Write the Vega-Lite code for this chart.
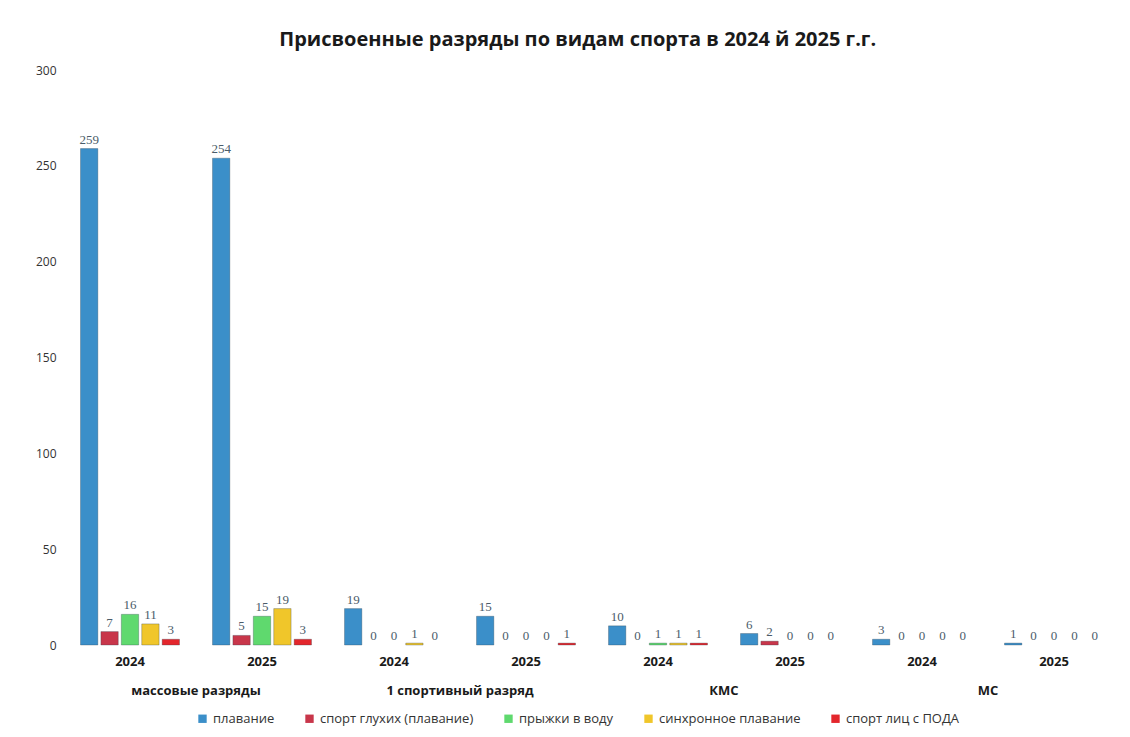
{
  "$schema": "https://vega.github.io/schema/vega-lite/v6.json",
  "background": "white",
  "padding": {"left": 35, "top": 30, "right": 5, "bottom": 5},
  "title": {"text": "Присвоенные разряды по видам спорта в 2024 й 2025 г.г.", "font": "Open Sans", "fontSize": 20, "fontWeight": "bold", "color": "#1a1a1a", "anchor": "middle", "offset": 14, "dx": 0},
  "data": {"values": [
    {"cat": "массовые разряды", "year": "2024", "s": "плавание", "v": 259},
    {"cat": "массовые разряды", "year": "2024", "s": "спорт глухих (плавание)", "v": 7},
    {"cat": "массовые разряды", "year": "2024", "s": "прыжки в воду", "v": 16},
    {"cat": "массовые разряды", "year": "2024", "s": "синхронное плавание", "v": 11},
    {"cat": "массовые разряды", "year": "2024", "s": "спорт лиц с ПОДА", "v": 3},
    {"cat": "массовые разряды", "year": "2025", "s": "плавание", "v": 254},
    {"cat": "массовые разряды", "year": "2025", "s": "спорт глухих (плавание)", "v": 5},
    {"cat": "массовые разряды", "year": "2025", "s": "прыжки в воду", "v": 15},
    {"cat": "массовые разряды", "year": "2025", "s": "синхронное плавание", "v": 19},
    {"cat": "массовые разряды", "year": "2025", "s": "спорт лиц с ПОДА", "v": 3},
    {"cat": "1 спортивный разряд", "year": "2024", "s": "плавание", "v": 19},
    {"cat": "1 спортивный разряд", "year": "2024", "s": "спорт глухих (плавание)", "v": 0},
    {"cat": "1 спортивный разряд", "year": "2024", "s": "прыжки в воду", "v": 0},
    {"cat": "1 спортивный разряд", "year": "2024", "s": "синхронное плавание", "v": 1},
    {"cat": "1 спортивный разряд", "year": "2024", "s": "спорт лиц с ПОДА", "v": 0},
    {"cat": "1 спортивный разряд", "year": "2025", "s": "плавание", "v": 15},
    {"cat": "1 спортивный разряд", "year": "2025", "s": "спорт глухих (плавание)", "v": 0},
    {"cat": "1 спортивный разряд", "year": "2025", "s": "прыжки в воду", "v": 0},
    {"cat": "1 спортивный разряд", "year": "2025", "s": "синхронное плавание", "v": 0},
    {"cat": "1 спортивный разряд", "year": "2025", "s": "спорт лиц с ПОДА", "v": 1},
    {"cat": "КМС", "year": "2024", "s": "плавание", "v": 10},
    {"cat": "КМС", "year": "2024", "s": "спорт глухих (плавание)", "v": 0},
    {"cat": "КМС", "year": "2024", "s": "прыжки в воду", "v": 1},
    {"cat": "КМС", "year": "2024", "s": "синхронное плавание", "v": 1},
    {"cat": "КМС", "year": "2024", "s": "спорт лиц с ПОДА", "v": 1},
    {"cat": "КМС", "year": "2025", "s": "плавание", "v": 6},
    {"cat": "КМС", "year": "2025", "s": "спорт глухих (плавание)", "v": 2},
    {"cat": "КМС", "year": "2025", "s": "прыжки в воду", "v": 0},
    {"cat": "КМС", "year": "2025", "s": "синхронное плавание", "v": 0},
    {"cat": "КМС", "year": "2025", "s": "спорт лиц с ПОДА", "v": 0},
    {"cat": "МС", "year": "2024", "s": "плавание", "v": 3},
    {"cat": "МС", "year": "2024", "s": "спорт глухих (плавание)", "v": 0},
    {"cat": "МС", "year": "2024", "s": "прыжки в воду", "v": 0},
    {"cat": "МС", "year": "2024", "s": "синхронное плавание", "v": 0},
    {"cat": "МС", "year": "2024", "s": "спорт лиц с ПОДА", "v": 0},
    {"cat": "МС", "year": "2025", "s": "плавание", "v": 1},
    {"cat": "МС", "year": "2025", "s": "спорт глухих (плавание)", "v": 0},
    {"cat": "МС", "year": "2025", "s": "прыжки в воду", "v": 0},
    {"cat": "МС", "year": "2025", "s": "синхронное плавание", "v": 0},
    {"cat": "МС", "year": "2025", "s": "спорт лиц с ПОДА", "v": 0}
  ]},
  "facet": {
    "column": {
      "field": "cat",
      "type": "nominal",
      "sort": ["массовые разряды", "1 спортивный разряд", "КМС", "МС"],
      "header": {"title": null, "labelOrient": "bottom", "labelFont": "Open Sans", "labelFontSize": 13, "labelFontWeight": "bold", "labelColor": "#1a1a1a", "labelPadding": 17}
    }
  },
  "spacing": 0,
  "spec": {
    "width": 264,
    "height": 575,
    "encoding": {
      "x": {"field": "year", "type": "nominal", "scale": {"paddingInner": 0.25, "paddingOuter": 0.125},
        "axis": {"title": null, "domain": false, "ticks": false, "labelAngle": 0, "labelFont": "Open Sans", "labelFontSize": 13, "labelFontWeight": "bold", "labelColor": "#1a1a1a", "labelPadding": 9}},
      "xOffset": {"field": "s", "type": "nominal", "sort": ["плавание", "спорт глухих (плавание)", "прыжки в воду", "синхронное плавание", "спорт лиц с ПОДА"], "scale": {"paddingInner": 0.15}},
      "y": {"field": "v", "type": "quantitative", "scale": {"domain": [0, 300]},
        "axis": {"title": null, "domain": false, "ticks": false, "grid": false, "values": [0, 50, 100, 150, 200, 250, 300], "labelFont": "Open Sans", "labelFontSize": 12, "labelColor": "#333333", "labelPadding": 8}}
    },
    "layer": [
      {
        "mark": {"type": "bar", "stroke": "#2b3b4a", "strokeWidth": 0.6},
        "encoding": {
          "strokeOpacity": {"condition": {"test": "datum.v > 0", "value": 0.5}, "value": 0},
          "color": {"field": "s", "type": "nominal",
            "sort": ["плавание", "спорт глухих (плавание)", "прыжки в воду", "синхронное плавание", "спорт лиц с ПОДА"],
            "scale": {"domain": ["плавание", "спорт глухих (плавание)", "прыжки в воду", "синхронное плавание", "спорт лиц с ПОДА"], "range": ["#3b8fc9", "#c8364a", "#5fd96e", "#f0c62a", "#e3262c"]},
            "legend": {"title": null, "orient": "bottom", "direction": "horizontal", "symbolType": "square", "symbolSize": 70, "symbolStrokeWidth": 0, "labelFont": "Open Sans", "labelFontSize": 13, "labelColor": "#333333", "columnPadding": 28, "offset": 14}
          }
        }
      },
      {
        "mark": {"type": "text", "dy": -9, "font": "Liberation Serif", "fontSize": 13, "color": "#4b5c6a"},
        "encoding": {"text": {"field": "v", "type": "quantitative"}}
      }
    ]
  },
  "config": {"view": {"stroke": null}, "legend": {"layout": {"bottom": {"anchor": "middle"}}}}
}
